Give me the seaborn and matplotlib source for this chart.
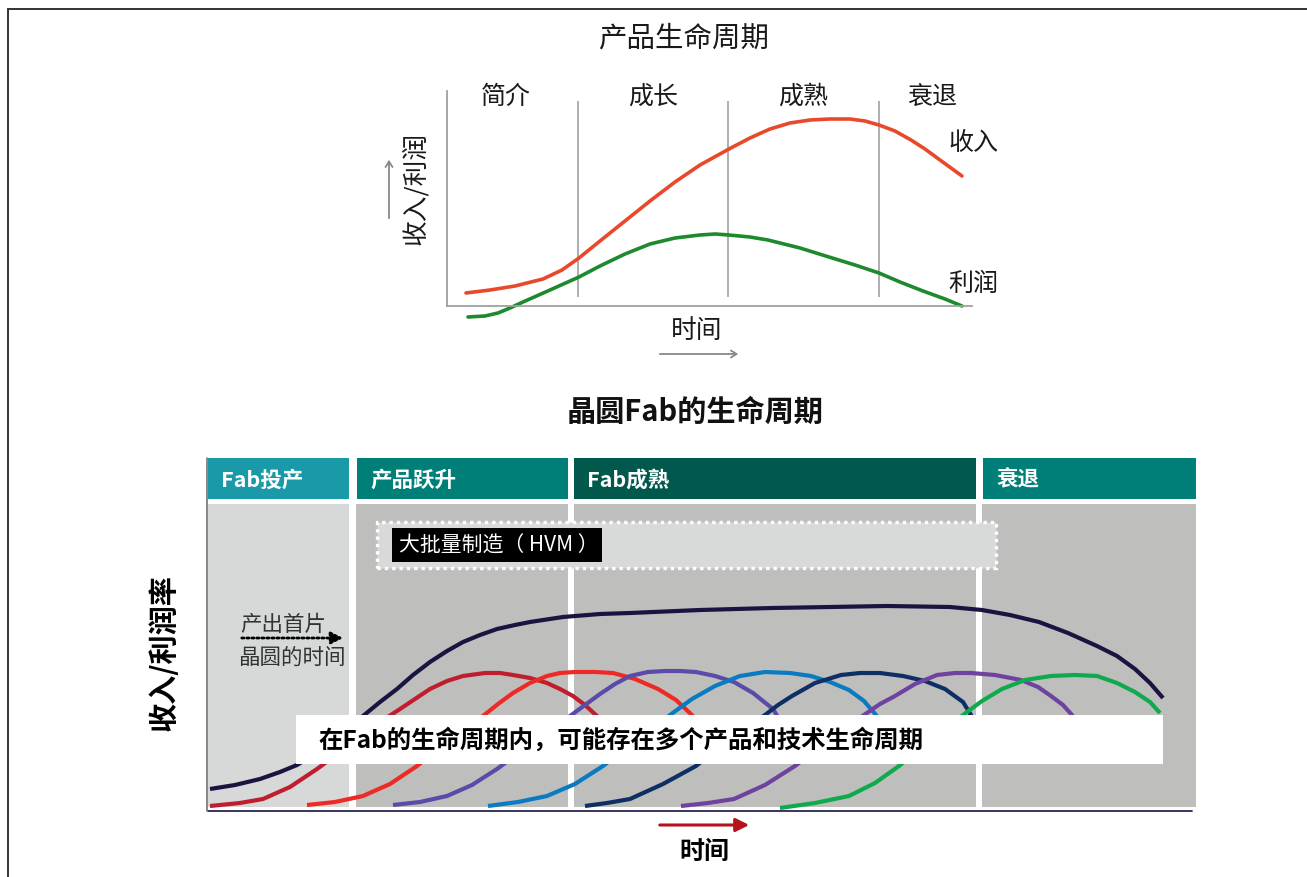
import numpy as np
import pandas as pd
import matplotlib
matplotlib.use("Agg")
import matplotlib.pyplot as plt
import seaborn as sns
from matplotlib.lines import Line2D
from matplotlib.patches import Rectangle, FancyArrowPatch

sns.set_theme(style="white")
plt.rcParams['font.family'] = ['Noto Sans CJK SC', 'DejaVu Sans']

# ---------------- data: top chart ----------------
top_title = "产品生命周期"
stage_labels = ["简介", "成长", "成熟", "衰退"]
stage_edges = [0, 131, 281, 432, 525]
revenue_t = [19, 43, 68, 96, 115, 132, 153, 178, 203, 228, 253, 282, 303, 323, 343, 363,
             383, 403, 418, 432, 448, 464, 478, 493, 515]
revenue_v = [13, 16, 20, 27, 36, 48, 65, 85, 105, 124, 141, 157, 168, 177, 183, 186,
             187, 187, 185, 181, 175, 166, 157, 146, 130]
profit_t = [21, 38, 51, 63, 76, 103, 132, 153, 178, 203, 228, 253, 268, 282, 303, 321,
            353, 382, 408, 432, 453, 476, 498, 515]
profit_v = [-11, -10, -7, -2, 4, 16, 29, 40, 52, 62, 68, 71, 72, 71, 69, 66,
            58, 49, 41, 33, 24, 15, 7, 0]

# ---------------- data: bottom chart ----------------
bottom_title = "晶圆Fab的生命周期"
phase_names = ["Fab投产", "产品跃升", "Fab成熟", "衰退"]
phase_start = [0, 149, 366, 775]
phase_end = [141, 360, 768, 988]

fab_t = [2, 27, 52, 72, 89, 107, 122, 139, 155, 172, 189, 205, 222, 239, 255, 272, 289, 307,
         322, 355, 392, 422, 492, 564, 622, 679, 742, 774, 802, 831, 860, 889, 909, 927, 942, 955]
fab_v = [22, 26, 32, 39, 46, 57, 67, 81, 95, 109, 122, 136, 149, 160, 169, 176, 182, 186,
         189, 194, 197, 198, 201, 203, 204, 205, 204, 201, 196, 189, 178, 165, 155, 142, 128, 113]

p1_t = [2, 32, 55, 82, 109, 132, 155, 172, 189, 207, 222, 239, 255, 277, 292, 305, 322, 339,
        352, 365, 377, 389, 399, 407]
p1_v = [5, 8, 12, 24, 42, 59, 77, 89, 100, 112, 122, 130, 135, 138, 138, 136, 133, 128,
        122, 115, 106, 95, 82, 67]
p2_t = [99, 127, 155, 182, 209, 242, 275, 290, 305, 322, 339, 352, 367, 387, 405, 427, 450,
        468, 484, 494, 502]
p2_v = [6, 9, 15, 27, 45, 72, 95, 107, 118, 128, 135, 138, 139, 139, 138, 132, 122,
        111, 96, 82, 67]
p3_t = [185, 212, 239, 264, 289, 327, 362, 377, 392, 407, 422, 440, 457, 472, 488, 507, 526,
        545, 565, 574, 582]
p3_v = [6, 9, 15, 26, 42, 70, 95, 106, 117, 127, 135, 139, 140, 140, 139, 135, 129,
        118, 102, 87, 72]
p4_t = [280, 310, 339, 367, 395, 430, 462, 484, 507, 532, 557, 582, 603, 622, 641, 656,
        668, 676, 682]
p4_v = [5, 9, 15, 27, 45, 72, 96, 112, 125, 135, 139, 138, 135, 129, 121, 110,
        96, 82, 67]
p5_t = [377, 399, 422, 455, 488, 522, 557, 570, 584, 607, 633, 652, 672, 695, 717, 737,
        755, 763, 768, 772]
p5_v = [5, 8, 12, 27, 45, 72, 96, 106, 115, 128, 136, 138, 138, 135, 130, 122,
        109, 96, 82, 67]
p6_t = [473, 500, 526, 557, 587, 622, 656, 672, 687, 707, 729, 747, 763, 787, 813, 830,
        843, 855, 864, 872, 877]
p6_v = [5, 8, 12, 26, 45, 72, 96, 107, 115, 127, 136, 138, 138, 136, 131, 124,
        115, 106, 96, 82, 67]
p7_t = [572, 607, 641, 667, 691, 724, 755, 774, 794, 817, 843, 867, 889, 909, 927, 942, 952]
p7_v = [3, 8, 15, 28, 45, 72, 96, 110, 122, 131, 135, 136, 135, 128, 119, 109, 98]

product_curves = [(p1_t, p1_v), (p2_t, p2_v), (p3_t, p3_v), (p4_t, p4_v),
                  (p5_t, p5_v), (p6_t, p6_v), (p7_t, p7_v)]
product_colors = ["#BE1E2D", "#EE2A24", "#5B4BA8", "#0B7BC1", "#0E2F63", "#7042A0", "#10AA4E"]

W, H = 1307, 878
fig = plt.figure(figsize=(W / 100, H / 100), dpi=100)
fig.patch.set_facecolor("white")

def fx(px):
    return px / W

def fy(py):
    return 1 - py / H

# frame
fig.add_artist(Line2D([fx(8), 1.0], [fy(10), fy(10)], color="#333333", lw=1.4))
fig.add_artist(Line2D([fx(8), fx(8)], [fy(10), 0.0], color="#333333", lw=1.4))

# ================= top chart =================
ax1 = fig.add_axes([fx(447), fy(327), (972 - 447) / W, (327 - 92) / H])
ax1.set_xlim(0, 525)
ax1.set_ylim(-20, 215)
ax1.set_facecolor("none")
for s in ["top", "right"]:
    ax1.spines[s].set_visible(False)
ax1.spines["bottom"].set_position(("data", 0))
ax1.spines["left"].set_bounds(0, 215)
for s in ["bottom", "left"]:
    ax1.spines[s].set_color("#A0A0A0")
    ax1.spines[s].set_linewidth(1.3)
ax1.set_xticks([])
ax1.set_yticks([])
ax1.vlines(stage_edges[1:4], 9, 205, color="#A8A8A8", lw=1.3)
centers = [(a + b) / 2 for a, b in zip(stage_edges[:-1], stage_edges[1:])]
offsets = [-7, 0, 0, 7]
for c, o, lab in zip(centers, offsets, stage_labels):
    ax1.text(c + o, 210, lab, ha="center", va="center", fontsize=18, color="#1a1a1a")
sns.lineplot(x=revenue_t, y=revenue_v, ax=ax1, color="#E8492A", lw=2.6, sort=False, estimator=None)
sns.lineplot(x=profit_t, y=profit_v, ax=ax1, color="#1E8A2E", lw=2.6, sort=False, estimator=None)
for l in ax1.lines:
    l.set_clip_on(False)
    l.set_solid_joinstyle("round")
ax1.text(revenue_t[-1] - 14, 164, "收入", ha="left", va="center", fontsize=18, color="#1a1a1a")
ax1.text(profit_t[-1] - 14, 23, "利润", ha="left", va="center", fontsize=18, color="#1a1a1a")

fig.text(fx(684), fy(38), top_title, ha="center", va="center", fontsize=20.5, color="#1a1a1a")
fig.text(fx(416), fy(188), "收入/利润", ha="center", va="center", rotation=90, fontsize=18.5, color="#1a1a1a")
fig.add_artist(FancyArrowPatch((fx(389), fy(222)), (fx(389), fy(158)), transform=fig.transFigure,
                               arrowstyle="->,head_length=4,head_width=2.5", color="#888888", lw=1.3))
fig.text(fx(697), fy(331), "时间", ha="center", va="center", fontsize=18.5, color="#1a1a1a")
fig.add_artist(FancyArrowPatch((fx(657), fy(355)), (fx(741), fy(355)), transform=fig.transFigure,
                               arrowstyle="->,head_length=4,head_width=2.5", color="#888888", lw=1.3))

# ================= bottom chart =================
fig.text(fx(695), fy(412), bottom_title, ha="center", va="center", fontsize=21, fontweight="bold", color="#111111")

ax2 = fig.add_axes([fx(208), fy(812), 988 / W, 353 / H])
ax2.set_xlim(0, 988)
ax2.set_ylim(0, 353)
ax2.set_facecolor("none")
for s in ax2.spines.values():
    s.set_visible(False)
ax2.set_xticks([])
ax2.set_yticks([])

header_colors = ["#1A9AA9", "#007F79", "#01594D", "#007F79"]
body_colors = ["#D7D9D9", "#BEBEBD", "#BEBEBD", "#BEBEBD"]
body_start = [0, 148, 366, 774]
widths = [e - s for s, e in zip(phase_start, phase_end)]
ax2.bar(phase_start, [41] * 4, width=widths, bottom=312, align="edge", color=header_colors, lw=0, zorder=1)
body_w = [e - s for s, e in zip(body_start, phase_end)]
ax2.bar(body_start, [303] * 4, width=body_w, bottom=4, align="edge", color=body_colors, lw=0, zorder=0)
for s, name in zip(phase_start, phase_names):
    ax2.text(s + 13, 332, name, ha="left", va="center", fontsize=15.5, fontweight="bold", color="white", zorder=5)

# HVM box
ax2.add_patch(Rectangle((169, 243), 619, 46, facecolor="#D8D9D9", edgecolor="white", lw=2.4,
                        linestyle=(0, (1.0, 1.2)), zorder=1))
ax2.add_patch(Rectangle((184, 249), 210, 34, facecolor="black", edgecolor="none", zorder=2))
ax2.text(191, 266, "大批量制造（ HVM ）", ha="left", va="center", fontsize=15, color="white", zorder=3)

# curves
sns.lineplot(x=fab_t, y=fab_v, ax=ax2, color="#1C1340", lw=3.0, sort=False, estimator=None, zorder=2)
for (tt, vv), col in zip(product_curves, product_colors):
    sns.lineplot(x=tt, y=vv, ax=ax2, color=col, lw=3.0, sort=False, estimator=None, zorder=2)
for l in ax2.lines:
    l.set_solid_capstyle("butt")
    l.set_solid_joinstyle("round")

# axis lines
ax2.plot([0, 984], [0, 0], color="#2A2450", lw=1.3, zorder=4, clip_on=False)
ax2.plot([-1, -1], [0, 353], color="#666666", lw=1.1, zorder=4, clip_on=False)

# annotation text box
ax2.add_patch(Rectangle((88, 47), 867, 49, facecolor="white", edgecolor="none", zorder=3))
ax2.text(110, 71.5, "在Fab的生命周期内，可能存在多个产品和技术生命周期", ha="left", va="center",
         fontsize=17.6, fontweight="bold", color="black", zorder=4)

# first wafer text
ax2.text(32, 187, "产出首片", ha="left", va="center", fontsize=15.5, color="#333333", zorder=4)
ax2.text(30, 154, "晶圆的时间", ha="left", va="center", fontsize=15.5, color="#333333", zorder=4)
ax2.annotate("", xy=(138, 173), xytext=(31, 173),
             arrowprops=dict(arrowstyle="-|>,head_length=0.6,head_width=0.3", color="black", lw=2.0,
                             linestyle=(0, (0.8, 1.0))), zorder=4)

fig.text(fx(164), fy(653), "收入/利润率", ha="center", va="center", rotation=90, fontsize=21,
         fontweight="bold", color="black")
fig.text(fx(704), fy(852), "时间", ha="center", va="center", fontsize=18, fontweight="bold", color="black")
fig.add_artist(FancyArrowPatch((fx(657), fy(826)), (fx(752), fy(826)), transform=fig.transFigure,
                               arrowstyle="-|>,head_length=8,head_width=4", color="#B5121B", lw=2.2))

fig.savefig("out.png", dpi=100, facecolor="white")
